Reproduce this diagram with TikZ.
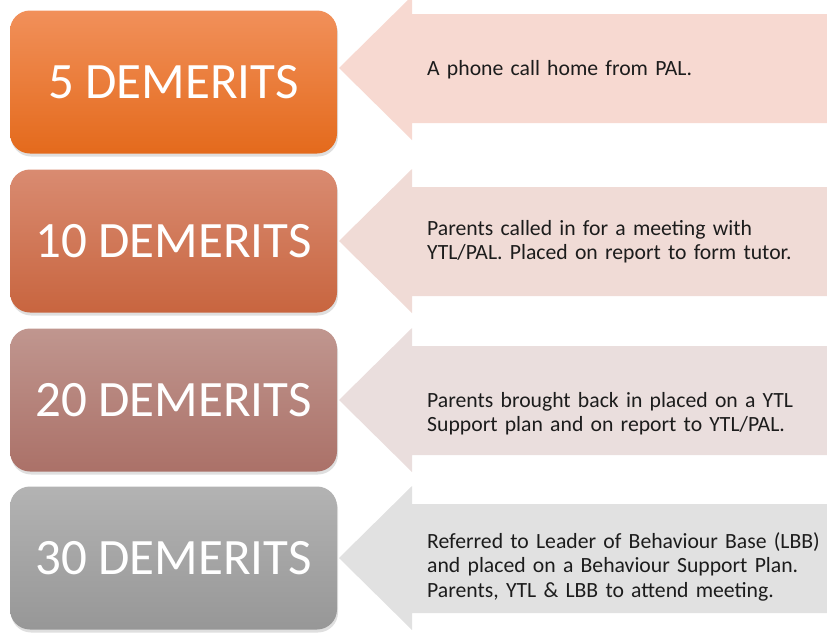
\documentclass[tikz,border=0pt]{standalone}
\usepackage{fontspec}
\setmainfont{Carlito}
\newfontfamily\descfont{Carlito}[WordSpace=0.8]
\usetikzlibrary{shadows}
\definecolor{bA1}{HTML}{F1905A}\definecolor{bA2}{HTML}{E46A1C}
\definecolor{bB1}{HTML}{D98B71}\definecolor{bB2}{HTML}{C8653F}
\definecolor{bC1}{HTML}{C0968F}\definecolor{bC2}{HTML}{AB7168}
\definecolor{bD1}{HTML}{B3B3B3}\definecolor{bD2}{HTML}{979797}
\definecolor{aA}{HTML}{F7D9D1}\definecolor{aB}{HTML}{F0DBD6}
\definecolor{aC}{HTML}{EADEDD}\definecolor{aD}{HTML}{E1E1E1}
\definecolor{txt}{HTML}{1C1C1C}
\tikzset{
  demerit/.style={draw=none, rounded corners=20pt, minimum width=327pt, minimum height=143pt,
    text=white, font=\fontsize{51}{56}\selectfont, inner sep=0pt,
    drop shadow={opacity=0.25, shadow xshift=1pt, shadow yshift=-3pt}},
  desc/.style={anchor=base west, text=txt, align=left, text width=400pt, inner sep=0pt,
    font=\descfont\fontsize{21.7}{24.5}\selectfont},
}
\newcommand{\pointer}[2]{% tip y, colour
  \fill[#2] (827,#1-54) -- (412,#1-54) -- (412,#1-72) -- (339,#1) -- (412,#1+72) -- (412,#1+55) -- (827,#1+55) -- cycle;
}
\begin{document}
\begin{tikzpicture}[x=1pt,y=-1pt]
\useasboundingbox (0,0) rectangle (827,633);
\pointer{68}{aA}
\pointer{241}{aB}
\pointer{400}{aC}
\pointer{558}{aD}
\node[demerit, top color=bA1, bottom color=bA2] (d5) at (173.5,82) {5 DEMERITS};
\node[demerit, top color=bB1, bottom color=bB2] (d10) at (173.5,241) {10 DEMERITS};
\node[demerit, top color=bC1, bottom color=bC2] (d20) at (173.5,400) {20 DEMERITS};
\node[demerit, top color=bD1, bottom color=bD2] (d30) at (173.5,558) {30 DEMERITS};
\node[desc] (t5) at (427,75) {A phone call home from PAL.};
\node[desc] (t10) at (427,235) {Parents called in for a meeting with\\YTL/PAL. Placed on report to form tutor.};
\node[desc] (t20) at (427,407) {Parents brought back in placed on a YTL\\Support plan and on report to YTL/PAL.};
\node[desc] (t30) at (427,548) {Referred to Leader of Behaviour Base (LBB)\\and placed on a Behaviour Support Plan.\\Parents, YTL \& LBB to attend meeting.};
\end{tikzpicture}
\end{document}
